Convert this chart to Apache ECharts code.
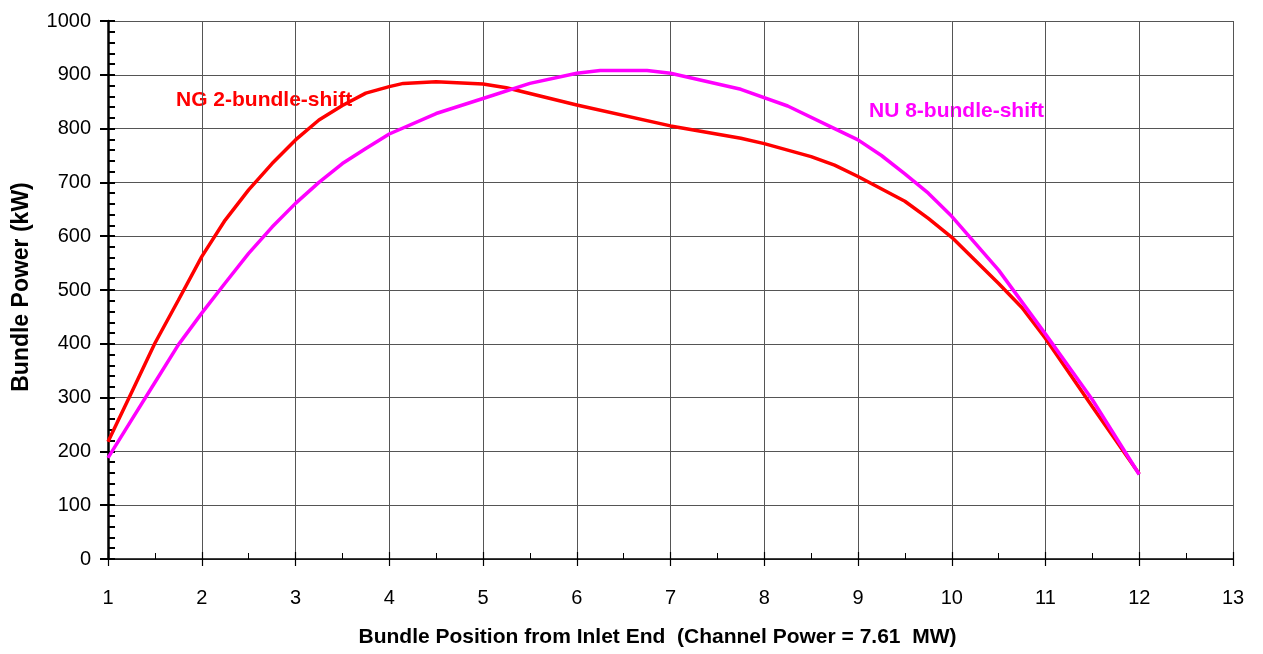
<!DOCTYPE html>
<html>
<head>
<meta charset="utf-8">
<script src="https://cdn.jsdelivr.net/npm/echarts@6/dist/echarts.min.js"></script>
<style>
html,body{margin:0;padding:0;background:#fff;}
#chart{width:1263px;height:654px;}
</style>
</head>
<body>
<div id="chart"></div>
<script>
// Bundle position (x) and bundle power in kW (y)
const ngX = [1,1.25,1.5,1.75,2,2.25,2.5,2.75,3,3.25,3.5,3.75,4,4.15,4.5,5,5.25,6,7,7.75,8,8.5,8.75,9,9.5,9.75,10,10.5,10.75,11,11.5,12];
const ngY = [218,309,401,481,562,630,686,735,779,816,843,866,878,884,887,883,876,844,805,782,772,748,732,711,665,633,598,512,467,410,283,158];
const nuX = [1,1.25,1.5,1.75,2,2.25,2.5,2.75,3,3.25,3.5,3.75,4,4.5,5,5.5,6,6.25,6.75,7,7.75,8.25,8.75,9,9.25,9.5,9.75,10,10.5,11,11.5,12];
const nuY = [188,258,328,398,457,513,568,617,661,700,735,763,790,828,856,884,903,908,908,903,873,842,800,779,750,716,680,637,537,418,296,157];
const seriesNames = ['NG 2-bundle-shift','NU 8-bundle-shift'];
const xTitle = 'Bundle Position from Inlet End  (Channel Power = 7.61  MW)';
const yTitle = 'Bundle Power (kW)';

const font = 'Liberation Sans, Arial, sans-serif';
const chart = echarts.init(document.getElementById('chart'), null, {renderer:'canvas'});
const pair = (xs, ys) => xs.map((x,i)=>[x, ys[i]]);

chart.setOption({
  animation:false,
  backgroundColor:'#fff',
  grid:{left:108,right:30,top:21,bottom:95,containLabel:false,outerBoundsMode:'none'},
  xAxis:[{
    type:'value',min:1,max:13,interval:1,position:'bottom',
    axisLine:{show:true,onZero:false,lineStyle:{color:'#000',width:1.5}},
    axisTick:{show:true,inside:false,length:7,lineStyle:{color:'#000',width:1.2}},
    axisLabel:{color:'#000',fontSize:20,fontFamily:font,margin:29,formatter:v=>String(v)},
    splitLine:{show:true,lineStyle:{color:'#555',width:1}},
    name:xTitle,nameLocation:'middle',nameGap:68,
    nameTextStyle:{color:'#000',fontSize:21,fontWeight:'bold',fontFamily:font,padding:[0,26,0,0]}
  },{
    type:'value',min:1,max:13,interval:1,position:'bottom',
    axisLine:{show:false,onZero:false},
    axisTick:{show:true,inside:true,length:7,lineStyle:{color:'#000',width:1.2}},
    minorTick:{show:true,splitNumber:2,length:6,lineStyle:{color:'#000',width:1}},
    axisLabel:{show:false},splitLine:{show:false}
  }],
  yAxis:[{
    type:'value',min:0,max:1000,interval:100,position:'left',
    axisLine:{show:true,onZero:false,lineStyle:{color:'#000',width:2.5}},
    axisTick:{show:true,inside:false,length:8,lineStyle:{color:'#000',width:2}},
    axisLabel:{color:'#000',fontSize:20,fontFamily:font,margin:17,formatter:v=>String(v)},
    splitLine:{show:true,lineStyle:{color:'#555',width:1}},
    name:yTitle,nameLocation:'middle',nameGap:75,nameRotate:90,
    nameTextStyle:{color:'#000',fontSize:23,fontWeight:'bold',fontFamily:font,padding:[0,0,0,6]}
  },{
    type:'value',min:0,max:1000,interval:100,position:'left',
    axisLine:{show:false,onZero:false},
    axisTick:{show:true,inside:true,length:7,lineStyle:{color:'#000',width:2}},
    minorTick:{show:true,splitNumber:5,length:7,lineStyle:{color:'#000',width:2}},
    axisLabel:{show:false},splitLine:{show:false}
  }],
  graphic:[
    {type:'text',left:176,top:90,style:{text:seriesNames[0],fill:'#ff0000',font:'bold 21px '+font}},
    {type:'text',left:869,top:101,style:{text:seriesNames[1],fill:'#ff00ff',font:'bold 21px '+font}}
  ],
  series:[
    {name:seriesNames[0],type:'line',data:pair(ngX,ngY),showSymbol:false,smooth:false,
     lineStyle:{color:'#ff0000',width:3.5},itemStyle:{color:'#ff0000'},z:3},
    {name:seriesNames[1],type:'line',data:pair(nuX,nuY),showSymbol:false,smooth:false,
     lineStyle:{color:'#ff00ff',width:3.5},itemStyle:{color:'#ff00ff'},z:4}
  ]
});
</script>
</body>
</html>
